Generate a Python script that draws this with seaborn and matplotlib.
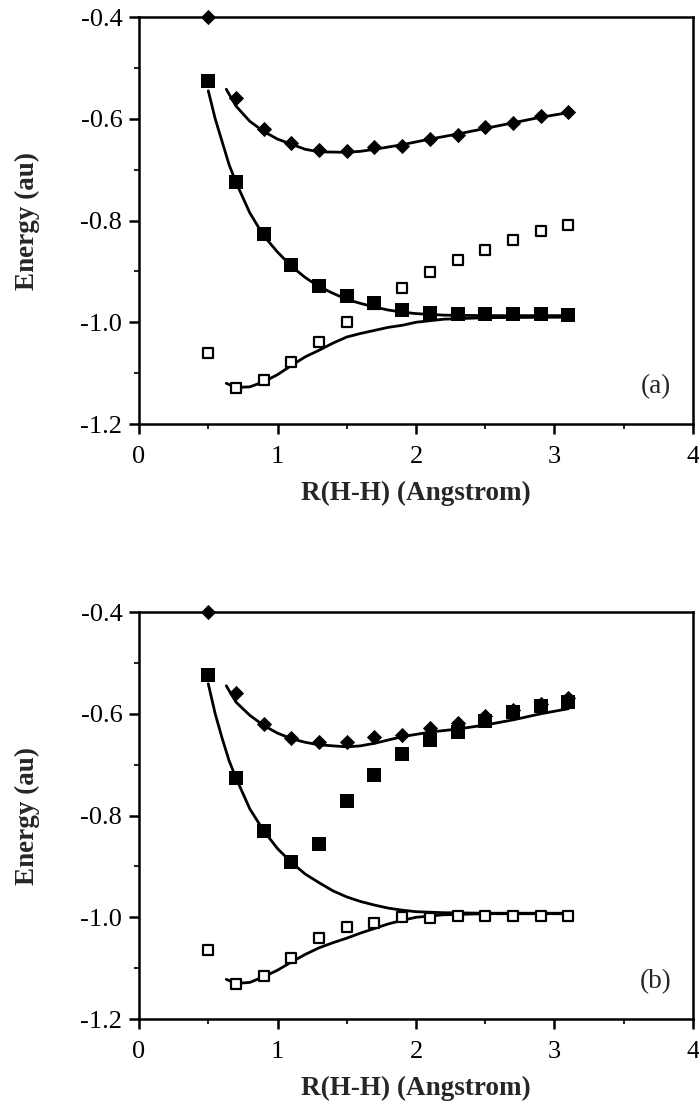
import matplotlib
matplotlib.use("Agg")
import matplotlib.pyplot as plt
import seaborn as sns
from matplotlib.ticker import FixedLocator

# data points, bond length grid (Angstrom)
r_pts = [0.5, 0.7, 0.9, 1.1, 1.3, 1.5, 1.7, 1.9, 2.1, 2.3, 2.5, 2.7, 2.9, 3.1]

# panel (a)
a_diamond = [-0.400, -0.560, -0.620, -0.648, -0.661, -0.663, -0.656, -0.653, -0.639, -0.631, -0.617, -0.608, -0.595, -0.586]
a_filled = [-0.525, -0.724, -0.827, -0.888, -0.928, -0.949, -0.963, -0.976, -0.981, -0.983, -0.983, -0.983, -0.983, -0.985]
a_open = [-1.061, -1.129, -1.114, -1.078, -1.039, -1.000, -0.965, -0.932, -0.901, -0.878, -0.857, -0.839, -0.821, -0.808]

# panel (b)
b_diamond = [-0.400, -0.560, -0.621, -0.647, -0.656, -0.655, -0.645, -0.641, -0.627, -0.618, -0.605, -0.593, -0.580, -0.569]
b_filled = [-0.523, -0.726, -0.830, -0.892, -0.856, -0.772, -0.720, -0.679, -0.652, -0.636, -0.614, -0.597, -0.584, -0.577]
b_open = [-1.064, -1.131, -1.116, -1.080, -1.041, -1.020, -1.011, -0.999, -1.001, -0.997, -0.997, -0.997, -0.997, -0.997]

# fitted curves
upper_x = [0.63, 0.7, 0.8, 0.9, 1.0, 1.1, 1.2, 1.3, 1.5, 1.6, 1.7, 1.9, 2.1, 2.3, 2.5, 2.7, 2.9, 3.1]
a_upper_y = [-0.542, -0.575, -0.605, -0.625, -0.640, -0.650, -0.660, -0.665, -0.666, -0.664, -0.660, -0.651, -0.640, -0.630, -0.619, -0.608, -0.597, -0.588]
b_upper_y = [-0.545, -0.577, -0.603, -0.623, -0.638, -0.649, -0.656, -0.661, -0.665, -0.663, -0.658, -0.645, -0.636, -0.630, -0.622, -0.612, -0.600, -0.590]

mid_x = [0.5, 0.55, 0.6, 0.65, 0.7, 0.8, 0.9, 1.0, 1.1, 1.2, 1.3, 1.4, 1.5, 1.6, 1.7, 1.8, 1.9, 2.0, 2.2, 2.5, 3.1]
a_mid_y = [-0.545, -0.600, -0.645, -0.690, -0.725, -0.785, -0.830, -0.862, -0.890, -0.912, -0.930, -0.943, -0.955, -0.963, -0.970, -0.976, -0.980, -0.983, -0.986, -0.987, -0.987]
b_mid_y = [-0.541, -0.600, -0.648, -0.692, -0.726, -0.787, -0.830, -0.865, -0.892, -0.915, -0.932, -0.948, -0.960, -0.969, -0.976, -0.982, -0.986, -0.989, -0.991, -0.992, -0.992]

lower_x = [0.63, 0.7, 0.8, 0.9, 1.0, 1.1, 1.2, 1.3, 1.4, 1.5, 1.6, 1.7, 1.8, 1.9, 2.0, 2.2, 2.5, 3.1]
a_lower_y = [-1.120, -1.128, -1.127, -1.117, -1.103, -1.085, -1.068, -1.055, -1.041, -1.029, -1.022, -1.016, -1.010, -1.006, -1.000, -0.994, -0.991, -0.990]
b_lower_y = [-1.122, -1.130, -1.128, -1.117, -1.104, -1.088, -1.073, -1.060, -1.050, -1.041, -1.031, -1.022, -1.013, -1.006, -1.000, -0.995, -0.993, -0.993]

x_ticks = [0, 1, 2, 3, 4]
x_labels = ['0', '1', '2', '3', '4']
y_ticks = [-1.2, -1.0, -0.8, -0.6, -0.4]
y_labels = ['-1.2', '-1.0', '-0.8', '-0.6', '-0.4']

sns.set_style("ticks")
plt.rcParams['font.family'] = ['Liberation Serif', 'DejaVu Serif']
plt.rcParams['axes.unicode_minus'] = False

fig = plt.figure(figsize=(6.99, 11.12), dpi=100)
ax_a = fig.add_axes([0.1989, 0.6187, 0.7925, 0.366])
ax_b = fig.add_axes([0.1989, 0.0836, 0.7925, 0.366])


def draw_panel(ax, diamond, filled, opened, up_y, mid_y, low_y, tag):
    for cx, cy in [(upper_x, up_y), (mid_x, mid_y), (lower_x, low_y)]:
        sns.lineplot(x=cx, y=cy, ax=ax, color='black', linewidth=2.0, sort=False)
    sns.scatterplot(x=r_pts, y=opened, ax=ax, marker='s', s=52, color='white',
                    edgecolor='black', linewidth=1.6, zorder=3)
    sns.scatterplot(x=r_pts, y=filled, ax=ax, marker='s', s=95, color='black',
                    edgecolor='black', linewidth=0, zorder=4)
    sns.scatterplot(x=r_pts, y=diamond, ax=ax, marker='D', s=60, color='black',
                    edgecolor='black', linewidth=0, zorder=5)
    for c in ax.collections:
        c.set_clip_on(False)

    ax.set_xlim(0, 4)
    ax.set_ylim(-1.2, -0.4)
    ax.xaxis.set_major_locator(FixedLocator(x_ticks))
    ax.xaxis.set_minor_locator(FixedLocator([0.5, 1.5, 2.5, 3.5]))
    ax.yaxis.set_major_locator(FixedLocator(y_ticks))
    ax.yaxis.set_minor_locator(FixedLocator([-1.1, -0.9, -0.7, -0.5]))
    ax.set_xticklabels(x_labels)
    ax.set_yticklabels(y_labels)
    ax.tick_params(which='major', direction='out', length=7, width=1.8, labelsize=19, colors='black')
    ax.tick_params(axis='x', which='major', pad=9)
    ax.tick_params(axis='y', which='major', pad=5)
    ax.tick_params(which='minor', direction='out', length=3.5, width=1.5)
    for sp in ax.spines.values():
        sp.set_visible(True)
        sp.set_linewidth(1.8)
        sp.set_color('black')
    ax.set_xlabel('R(H-H) (Angstrom)', fontsize=19.5, fontweight='bold', labelpad=9)
    ax.set_ylabel('Energy (au)', fontsize=19.5, fontweight='bold', labelpad=29)
    ax.text(3.73, -1.127, tag, fontsize=19.5, ha='center', va='center')


draw_panel(ax_a, a_diamond, a_filled, a_open, a_upper_y, a_mid_y, a_lower_y, '(a)')
draw_panel(ax_b, b_diamond, b_filled, b_open, b_upper_y, b_mid_y, b_lower_y, '(b)')

fig.savefig('out.png', dpi=100)
